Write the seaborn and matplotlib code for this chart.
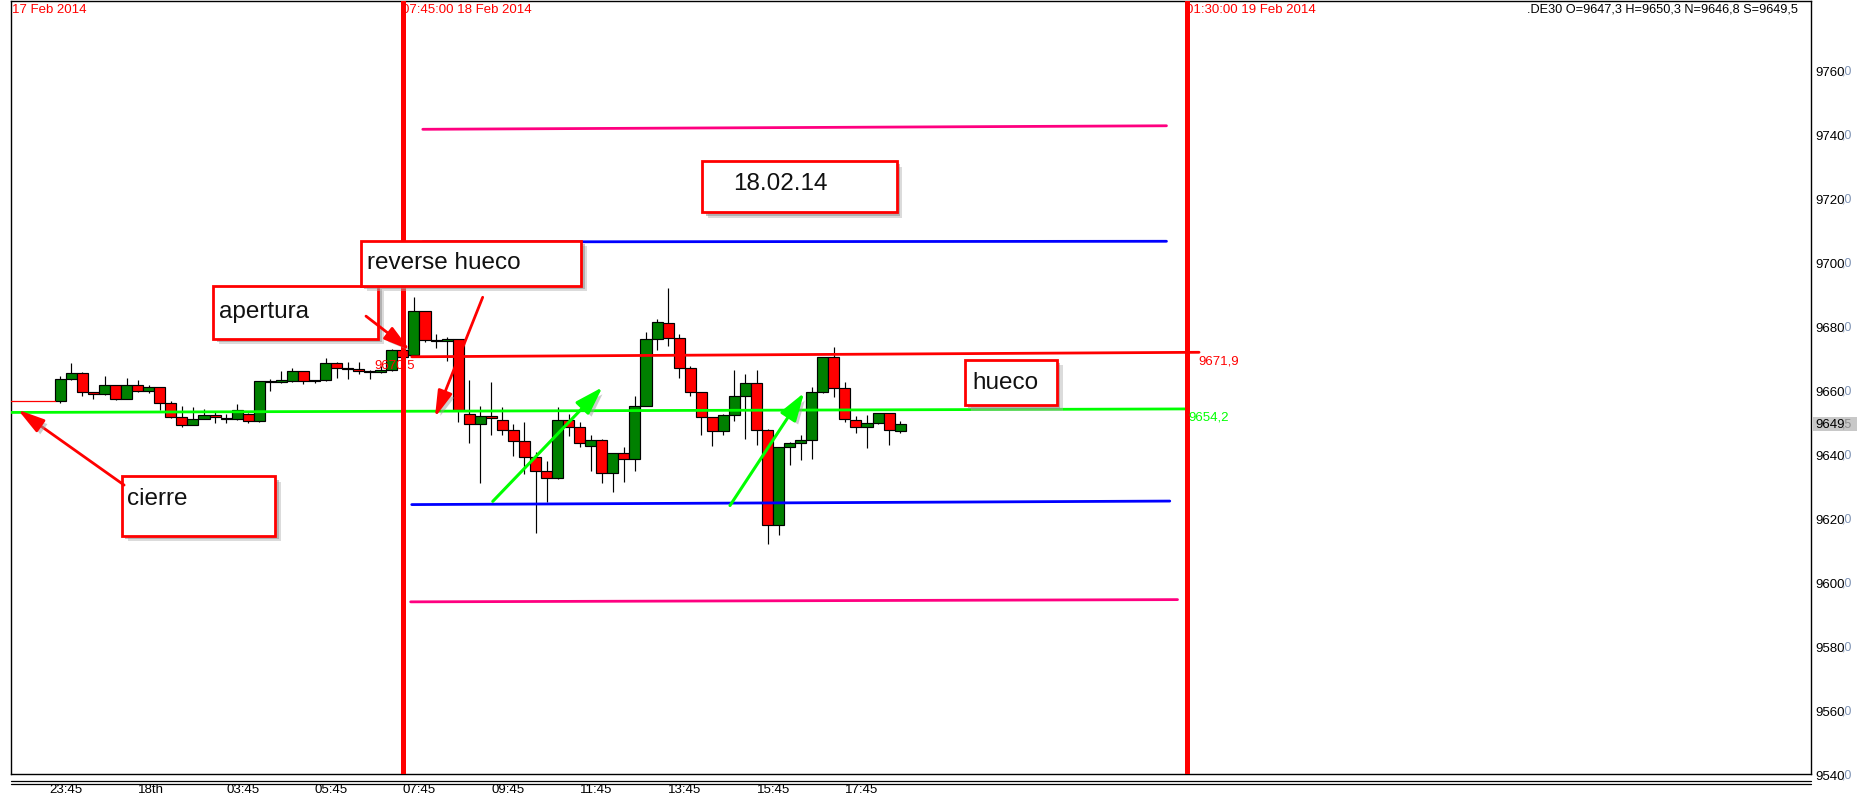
import numpy as np
import pandas as pd
import matplotlib
matplotlib.use("Agg")
import matplotlib.pyplot as plt
import matplotlib.patheffects as pe
import matplotlib.transforms as mtransforms
from matplotlib.patches import Rectangle, FancyArrowPatch
from matplotlib.lines import Line2D
import seaborn as sns

# ---------------- data ----------------
symbol = ".DE30"

# 15-minute bars (bar index 0 = 23:45 on 17 Feb 2014)
bar_index = list(range(1, 78))
opens = [9656.6, 9663.5, 9665.4, 9659.4, 9658.8, 9661.6, 9657.4, 9661.6, 9659.7, 9660.9,
         9656.0, 9651.6, 9649.3, 9651.1, 9652.4, 9651.1, 9651.1, 9652.6, 9650.3, 9662.5,
         9662.5, 9662.8, 9666.0, 9662.8, 9663.3, 9668.6, 9667.0, 9666.7, 9666.0, 9665.7,
         9666.5, 9672.5, 9671.1, 9684.7, 9675.8, 9675.3, 9675.9, 9652.6, 9649.4, 9652.1,
         9650.7, 9647.5, 9644.3, 9639.1, 9634.7, 9632.5, 9650.8, 9648.5, 9642.7, 9644.6,
         9634.1, 9640.3, 9638.5, 9655.2, 9676.0, 9681.0, 9676.5, 9666.9, 9659.4, 9651.6,
         9647.4, 9652.3, 9658.1, 9662.2, 9647.7, 9618.0, 9642.4, 9643.7, 9644.4, 9659.4,
         9670.3, 9660.6, 9650.6, 9648.4, 9649.8, 9652.8, 9647.3]
highs = [9664.6, 9668.7, 9665.6, 9659.6, 9664.5, 9661.8, 9663.9, 9663.1, 9661.7, 9661.0,
         9656.8, 9655.0, 9654.7, 9654.1, 9653.4, 9652.6, 9655.7, 9653.0, 9663.0, 9663.5,
         9666.2, 9667.0, 9666.2, 9663.3, 9670.1, 9668.8, 9668.9, 9668.9, 9666.3, 9667.6,
         9672.8, 9672.7, 9689.1, 9684.9, 9677.6, 9676.6, 9676.0, 9663.2, 9655.2, 9662.5,
         9654.7, 9649.5, 9650.0, 9640.6, 9638.0, 9654.7, 9652.6, 9650.0, 9645.9, 9644.8,
         9640.5, 9642.2, 9658.1, 9678.1, 9682.3, 9691.9, 9677.6, 9667.5, 9659.6, 9651.8,
         9652.6, 9666.5, 9665.1, 9666.5, 9648.0, 9642.4, 9644.0, 9646.0, 9660.9, 9670.5,
         9673.4, 9662.5, 9652.1, 9652.3, 9653.0, 9653.0, 9650.3]
lows = [9656.1, 9663.3, 9658.1, 9657.3, 9658.5, 9657.1, 9657.2, 9659.5, 9659.2, 9653.9,
        9651.3, 9648.7, 9649.2, 9651.0, 9649.7, 9649.7, 9650.8, 9649.7, 9650.2, 9659.7,
        9662.3, 9662.6, 9662.0, 9662.2, 9663.0, 9664.0, 9663.6, 9665.1, 9663.6, 9665.5,
        9666.2, 9670.3, 9670.8, 9675.2, 9673.1, 9669.3, 9650.0, 9643.4, 9631.0, 9646.2,
        9646.2, 9639.6, 9633.9, 9615.4, 9625.2, 9632.3, 9645.8, 9642.2, 9634.9, 9631.0,
        9628.3, 9631.5, 9634.9, 9655.0, 9672.7, 9674.0, 9664.0, 9658.3, 9646.2, 9642.7,
        9646.2, 9650.5, 9644.8, 9643.0, 9612.0, 9614.8, 9636.6, 9638.2, 9638.5, 9659.2,
        9658.0, 9650.2, 9646.6, 9641.9, 9649.6, 9643.0, 9646.8]
closes = [9663.5, 9665.4, 9659.4, 9658.8, 9661.6, 9657.4, 9661.6, 9659.7, 9660.9, 9656.0,
          9651.6, 9649.3, 9651.1, 9652.4, 9651.6, 9651.4, 9653.9, 9650.3, 9662.8, 9662.8,
          9663.3, 9666.0, 9662.8, 9663.1, 9668.6, 9667.0, 9666.7, 9666.0, 9665.7, 9666.5,
          9672.5, 9670.3, 9684.7, 9675.8, 9675.3, 9675.9, 9654.0, 9649.4, 9652.1, 9651.3,
          9647.5, 9644.3, 9639.1, 9634.7, 9632.5, 9650.8, 9648.5, 9643.5, 9644.6, 9634.1,
          9640.3, 9638.5, 9655.2, 9676.0, 9681.3, 9676.5, 9666.9, 9659.4, 9651.6, 9647.2,
          9652.3, 9658.1, 9662.2, 9647.7, 9618.0, 9642.2, 9643.7, 9644.4, 9659.4, 9670.3,
          9660.6, 9650.9, 9648.4, 9649.8, 9652.8, 9647.5, 9649.5]

tick_index = [0, 8, 16, 24, 32, 40, 48, 56, 64, 72]
tick_labels = ["23:45", "18th", "03:45", "05:45", "07:45",
               "09:45", "11:45", "13:45", "15:45", "17:45"]
price_ticks = list(range(9540, 9761, 20))

session_bars = [32, 103]
session_labels = ["07:45:00 18 Feb 2014", "01:30:00 19 Feb 2014"]
day_label = "17 Feb 2014"

# previous-session close marker
prev_close = 9656.7

# pivot levels: (start bar, end bar, start price, end price)
level_names = ["r2", "r1", "open", "close", "s1", "s2"]
level_x0 = [33.8, 33.8, 32.8, -3.5, 32.8, 32.7]
level_x1 = [101.1, 101.1, 104.05, 102.8, 101.4, 102.1]
level_p0 = [9741.6, 9706.4, 9670.5, 9653.1, 9624.3, 9593.9]
level_p1 = [9742.7, 9706.6, 9671.9, 9654.2, 9625.4, 9594.6]
level_colors = ["#ff0080", "#0000ff", "#ff0000", "#00ff00", "#0000ff", "#ff0080"]

notes = ["apertura", "reverse hueco", "18.02.14", "cierre", "hueco"]

# ---------------- style ----------------
sns.set_theme(style="white")
plt.rcParams["font.family"] = ["Liberation Sans", "DejaVu Sans"]

SMALL = dict(size=9.5)
RED = "#ff0000"
GREEN_BODY = "#008000"

fig = plt.figure(figsize=(18.57, 8.03), dpi=100, facecolor="white")
ax = fig.add_axes([0.005762, 0.034496, 0.969478, 0.963014])
ax.set_facecolor("white")
ax.set_xlim(-3.493, 159.43)
ax.set_ylim(9540.0, 9781.7)
for sp in ax.spines.values():
    sp.set_color("black")
    sp.set_linewidth(1.0)

# ---------------- candles ----------------
bars = pd.DataFrame({"bar": bar_index, "open": opens, "high": highs,
                     "low": lows, "close": closes})
up = bars["close"] >= bars["open"]
ax.vlines(bars["bar"], bars["low"], bars["high"], color="black",
          linewidth=0.85, zorder=2)
body_h = (bars["close"] - bars["open"]).abs().clip(lower=0.15)
ax.bar(bars["bar"], body_h, bottom=np.minimum(bars["open"], bars["close"]),
       width=1.0, color=np.where(up, GREEN_BODY, RED), edgecolor="black",
       linewidth=0.85, zorder=3)

# previous close marker
ax.plot([-3.5, 0.5], [prev_close, prev_close], color=RED, lw=0.9, zorder=3)

# ---------------- pivot levels ----------------
rows = []
for n, x0, x1, p0, p1 in zip(level_names, level_x0, level_x1, level_p0, level_p1):
    rows.append({"level": n, "bar": x0, "price": p0})
    rows.append({"level": n, "bar": x1, "price": p1})
levels = pd.DataFrame(rows)
sns.lineplot(data=levels, x="bar", y="price", hue="level",
             palette=dict(zip(level_names, level_colors)), linewidth=2.0,
             legend=False, sort=False, estimator=None, ax=ax, zorder=4)
ax.set_xlabel("")
ax.set_ylabel("")


def fmt(v):
    return f"{v:.1f}".replace(".", ",")


ax.text(29.38, 9668.2, fmt(level_p0[2]), color=RED, va="center", ha="left",
        zorder=5, **SMALL)
ax.text(103.96, 9669.3, fmt(level_p1[2]), color=RED, va="center", ha="left",
        zorder=7, **SMALL)
ax.text(103.05, 9651.9, fmt(level_p1[3]), color="#00ff00", va="center",
        ha="left", zorder=7, **SMALL)

# ---------------- session separators ----------------
top_tr = mtransforms.blended_transform_factory(ax.transData, ax.transAxes)
for b, lab in zip(session_bars, session_labels):
    ax.axvline(b, color=RED, lw=3.6, zorder=6)
    ax.text(b - 0.1, 0.98966, lab, transform=top_tr, color=RED,
            va="center", ha="left", zorder=5, **SMALL)
ax.text(0.0009, 0.98966, day_label, transform=ax.transAxes, color=RED,
        va="center", ha="left", zorder=5, **SMALL)

last = bars.iloc[-1]
header = (f"{symbol} O={fmt(last['open'])} H={fmt(last['high'])} "
          f"N={fmt(last['low'])} S={fmt(last['close'])}")
ax.text(0.99278, 0.98966, header, transform=ax.transAxes, color="black",
        va="center", ha="right", zorder=5, size=9.2)

# ---------------- axes ticks ----------------
ax.set_xticks(tick_index, tick_labels)
for lbl in ax.get_xticklabels():
    lbl.set_horizontalalignment("left")
ax.tick_params(axis="x", length=0, pad=6, colors="black", labelsize=9.5)

ax.yaxis.tick_right()
ax.set_yticks(price_ticks, [str(p) for p in price_ticks])
ax.tick_params(axis="y", length=0, pad=3.0, colors="black", labelsize=9.5,
               labelleft=False, labelright=True)
right_tr = mtransforms.blended_transform_factory(ax.transAxes, ax.transData)
for p in price_ticks:
    ax.text(1.0172, p, ",0", transform=right_tr, color="#7d92b4",
            va="center", ha="left", clip_on=False, size=9)

# current price tag
cur = closes[-1]
ax.add_patch(Rectangle((1.0011, cur - 2.3), 0.0245, 4.6, transform=right_tr,
                       facecolor="#c8c8c8", edgecolor="none", clip_on=False,
                       zorder=8))
whole, frac = fmt(cur).split(",")
ax.text(1.00225, cur, whole, transform=right_tr, color="black",
        va="center", ha="left", clip_on=False, zorder=9, **SMALL)
ax.text(1.0172, cur, "," + frac, transform=right_tr, color="#8c8c8c",
        va="center", ha="left", clip_on=False, zorder=9, size=9)

# double rule under the time axis
for yy in (1 - 782 / 803, 1 - 785.3 / 803):
    fig.add_artist(Line2D([10.7 / 1857, 1811 / 1857], [yy, yy],
                          transform=fig.transFigure, color="black", lw=0.9))

# ---------------- note boxes ----------------
box_shadow = [pe.SimplePatchShadow(offset=(4, -4), shadow_rgbFace="#b0b0b0",
                                   alpha=0.45),
              pe.SimplePatchShadow(offset=(2.5, -2.5), shadow_rgbFace="#8a8a8a",
                                   alpha=0.5),
              pe.Normal()]
boxes = [
    (14.83, 29.75, 9676.1, 9692.74, 15.36, 9684.96),
    (28.21, 48.12, 9692.74, 9706.8, 28.75, 9700.1),
    (59.07, 76.67, 9715.7, 9731.7, 61.87, 9724.9),
    (6.58, 20.43, 9614.6, 9633.2, 7.0, 9626.5),
    (82.87, 91.19, 9655.4, 9669.6, 83.57, 9662.5),
]
for txt, (x0, x1, y0, y1, tx, ty) in zip(notes, boxes):
    ax.add_patch(Rectangle((x0, y0), x1 - x0, y1 - y0, facecolor="white",
                           edgecolor=RED, lw=2.0, zorder=9,
                           path_effects=box_shadow))
    ax.text(tx, ty, txt, fontsize=17.5, color="#111111", va="center",
            ha="left", zorder=10)

# ---------------- arrows ----------------
arrow_shadow = [pe.SimplePatchShadow(offset=(2.5, -2.5), shadow_rgbFace="#9a9a9a",
                                     alpha=0.5), pe.Normal()]
red_arrows = [((6.77, 9630.4), (-2.83, 9653.9)),
              ((28.66, 9683.2), (32.64, 9672.6)),
              ((39.22, 9689.1), (34.9, 9651.6))]
for a, b in red_arrows:
    ax.add_patch(FancyArrowPatch(a, b, arrowstyle="-|>,head_length=1.6,head_width=0.45",
                                 mutation_scale=10, color=RED, lw=2.0,
                                 shrinkA=0, shrinkB=0, zorder=11,
                                 path_effects=arrow_shadow))
green_arrows = [((40.13, 9625.3), (50.05, 9660.96)),
                ((61.6, 9624.0), (68.3, 9659.2))]
for a, b in green_arrows:
    ax.add_patch(FancyArrowPatch(a, b, arrowstyle="-|>,head_length=1.7,head_width=0.55",
                                 mutation_scale=10, color="#00ff00", lw=2.2,
                                 shrinkA=0, shrinkB=0, zorder=11,
                                 path_effects=arrow_shadow))

fig.savefig("out.png", dpi=100, facecolor="white")
